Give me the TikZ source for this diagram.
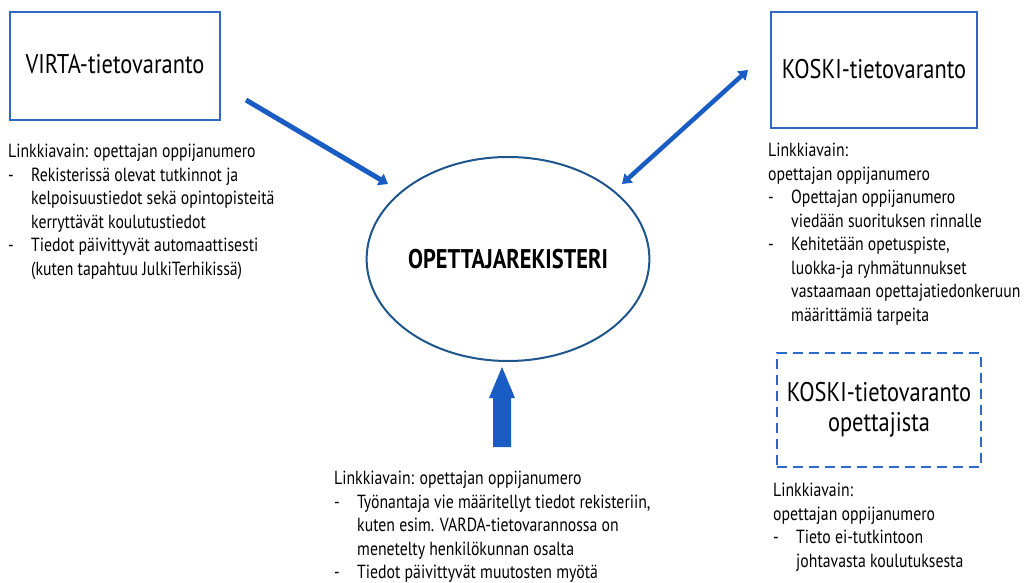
\documentclass[tikz,border=0pt]{standalone}
\usepackage{fontspec}
\setmainfont[FakeStretch=0.83]{PT Sans}
\usetikzlibrary{arrows.meta}
\usetikzlibrary{positioning}
\usetikzlibrary{shapes.geometric}
\definecolor{boxblue}{RGB}{47,104,200}
\definecolor{arrowblue}{RGB}{25,92,196}
\definecolor{ringblue}{RGB}{30,85,140}
\newcommand{\dashmark}{\makebox[23pt][l]{-}}
\newcommand{\hang}{\hspace*{23pt}}

\begin{document}
\begin{tikzpicture}[x=1pt, y=-1pt,
    store/.style={draw=boxblue, line width=2pt, inner sep=0pt, font=\fontsize{27}{30}\selectfont},
    notes/.style={anchor=north west, align=left, inner sep=0pt, font=\fontsize{19}{23.5}\selectfont},
    fatarrow/.style={draw=arrowblue, line width=5pt, -{Triangle[length=9pt,width=13pt]}}]
    \useasboundingbox (0,0) rectangle (1027,583);

    \node[store, minimum width=210pt, minimum height=108pt] (virta) at (115,66) {\raisebox{4pt}{VIRTA-tietovaranto}};
    \node[store, minimum width=206pt, minimum height=115pt] (koski) at (874,70) {\raisebox{2pt}{KOSKI-tietovaranto}};
    \node[store, dashed, dash pattern=on 10pt off 6pt, line width=2.5pt, align=center,
          minimum width=204pt, minimum height=114pt] (koskiopet) at (879,410) {KOSKI-tietovaranto\\opettajista};
    \node[draw=ringblue, ellipse, line width=2pt, minimum width=243pt, minimum height=204pt, inner sep=0pt,
          font=\fontsize{27}{30}\selectfont\bfseries] (reg) at (508,259) {OPETTAJAREKISTERI};

    \node[notes] (virtanotes) at (8,144) {Linkkiavain: opettajan oppijanumero\\
        \dashmark Rekisterissä olevat tutkinnot ja\\
        \hang kelpoisuustiedot sekä opintopisteitä\\
        \hang kerryttävät koulutustiedot\\
        \dashmark Tiedot päivittyvät automaattisesti\\
        \hang (kuten tapahtuu JulkiTerhikissä)};
    \node[notes] (koskinotes) at (768,143) {Linkkiavain:\\
        opettajan oppijanumero\\
        \dashmark Opettajan oppijanumero\\
        \hang viedään suorituksen rinnalle\\
        \dashmark Kehitetään opetuspiste,\\
        \hang luokka-ja ryhmätunnukset\\
        \hang vastaamaan opettajatiedonkeruun\\
        \hang määrittämiä tarpeita};
    \node[notes] (opetnotes) at (773,483) {Linkkiavain:\\
        opettajan oppijanumero\\
        \dashmark Tieto ei-tutkintoon\\
        \hang johtavasta koulutuksesta};
    \node[notes] (employnotes) at (334,471) {Linkkiavain: opettajan oppijanumero\\
        \dashmark Työnantaja vie määritellyt tiedot rekisteriin,\\
        \hang kuten esim. VARDA-tietovarannossa on\\
        \hang menetelty henkilökunnan osalta\\
        \dashmark Tiedot päivittyvät muutosten myötä};

    \coordinate (v1) at (246,100);
    \coordinate (v2) at (388,184);
    \coordinate (k1) at (622,184);
    \coordinate (k2) at (748,70);
    \coordinate (upbase) at (502,447);

    \draw[fatarrow] (v1) -- (v2);
    \draw[fatarrow, line width=4.5pt, {Triangle[length=9pt,width=12pt]}-{Triangle[length=9pt,width=12pt]}] (k1) -- (k2);
    \fill[arrowblue] ([xshift=-9pt]upbase) -- ++(0,-49) -- ++(-4,0) -- (502,367) -- (515,398) -- ++(-4,0) -- ([xshift=9pt]upbase) -- cycle;
\end{tikzpicture}
\end{document}
